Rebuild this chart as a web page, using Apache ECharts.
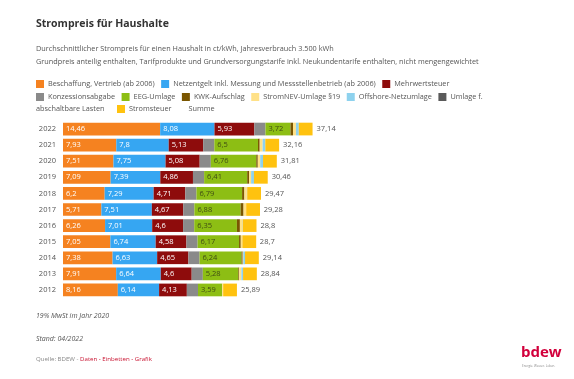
<!DOCTYPE html>
<html><head><meta charset="utf-8">
<script src="https://cdn.jsdelivr.net/npm/echarts@6/dist/echarts.min.js"></script>
<style>html,body{margin:0;padding:0;background:#fff}#c{width:574px;height:379px}</style>
</head><body><div id="c"></div>
<script>
const years = ['2022','2021','2020','2019','2018','2017','2016','2015','2014','2013','2012'];
const beschaffung = [14.46,7.93,7.51,7.09,6.2,5.71,6.26,7.05,7.38,7.91,8.16];
const netzentgelt = [8.08,7.8,7.75,7.39,7.29,7.51,7.01,6.74,6.63,6.64,6.14];
const mwst = [5.93,5.13,5.08,4.86,4.71,4.67,4.6,4.58,4.65,4.6,4.13];
const konzession = [1.66,1.66,1.66,1.66,1.66,1.66,1.66,1.66,1.66,1.66,1.66];
const eeg = [3.72,6.5,6.76,6.41,6.79,6.88,6.35,6.17,6.24,5.28,3.59];
const kwk = [0.378,0.254,0.226,0.28,0.345,0.438,0.445,0.254,0.178,0.126,0.002];
const stromnev = [0.437,0.432,0.358,0.305,0.37,0.388,0.378,0.237,0.092,0.329,0.151];
const offshore = [0.419,0.395,0.416,0.416,0.037,0,0.04,0,0.25,0.25,0];
const abla = [0.003,0.009,0.007,0.005,0.011,0.006,0,0.006,0.009,0,0];
const stromsteuer = [2.05,2.05,2.05,2.05,2.05,2.05,2.05,2.05,2.05,2.05,2.05];
const summe = [37.14,32.16,31.81,30.46,29.47,29.28,28.8,28.7,29.14,28.84,25.89];

const FONT = '"Open Sans", "Noto Sans", sans-serif';
const fmt = v => String(v).replace('.', ',');

const defs = [
  ['Beschaffung, Vertrieb (ab 2006)', beschaffung, '#F58220', '#fff'],
  ['Netzentgelt inkl. Messung und Messstellenbetrieb (ab 2006)', netzentgelt, '#36A6F2', '#fff'],
  ['Mehrwertsteuer', mwst, '#8E0C0C', '#fff'],
  ['Konzessionsabgabe', konzession, '#8A8A8A', null],
  ['EEG-Umlage', eeg, '#8DBE14', '#3f4a14'],
  ['KWK-Aufschlag', kwk, '#7A5600', null],
  ['StromNEV-Umlage §19', stromnev, '#FFE188', null],
  ['Offshore-Netzumlage', offshore, '#8ED2EE', null],
  ['Umlage f. abschaltbare Lasten', abla, '#5A5A5A', null],
  ['Stromsteuer', stromsteuer, '#FFC20F', null]
];

const series = defs.map(d => ({
  name: d[0], type: 'bar', stack: 'total', data: d[1],
  barCategoryGap: '21%', barGap: '-100%',
  itemStyle: { color: d[2] },
  label: d[3] ? { show: true, position: 'insideLeft', distance: 3, color: d[3], fontSize: 7.5, fontFamily: FONT, formatter: p => fmt(p.value) } : { show: false },
  emphasis: { disabled: true }
}));
series.push({
  name: 'Summe', type: 'bar', data: summe, barCategoryGap: '21%', barGap: '-100%',
  itemStyle: { color: 'rgba(0,0,0,0)' }, z: 1,
  label: { show: true, position: 'right', distance: 4, color: '#555', fontSize: 7.5, fontFamily: FONT, formatter: p => fmt(p.value) },
  emphasis: { disabled: true }
});

const legBase = { orient: 'horizontal', itemWidth: 8, itemHeight: 8, icon: 'rect', itemGap: 6.5,
  textStyle: { fontSize: 7.3, color: '#555', fontFamily: FONT, padding: [0,0,0,-1] }, selectedMode: false, padding: 0 };

const chart = echarts.init(document.getElementById('c'), null, { renderer: 'canvas' });
const xmax = 50;
chart.setOption({
  backgroundColor: '#fff',
  animation: false,
  grid: { left: 63, top: 121, height: 177, width: 6.72 * xmax },
  xAxis: { type: 'value', min: 0, max: xmax, show: false },
  yAxis: { type: 'category', data: years, inverse: true,
    axisLine: { show: false }, axisTick: { show: false },
    axisLabel: { fontSize: 7.5, color: '#555', fontFamily: FONT, margin: 7 } },
  legend: [
    Object.assign({}, legBase, { left: 36, top: 80, data: defs.slice(0,3).map(d => d[0]) }),
    Object.assign({}, legBase, { left: 36, top: 93, data: defs.slice(3,9).map(d => d[0]),
      formatter: n => n === 'Umlage f. abschaltbare Lasten' ? 'Umlage f.' : n }),
    Object.assign({}, legBase, { left: 117, top: 105, itemGap: 5, data: ['Stromsteuer', 'Summe'] })
  ],
  graphic: [
    { type: 'text', left: 36, top: 19, style: { text: 'Strompreis für Haushalte', fontSize: 10.5, fontWeight: 'bold', fill: '#333', fontFamily: FONT } },
    { type: 'text', left: 36, top: 45, style: { text: 'Durchschnittlicher Strompreis für einen Haushalt in ct/kWh, Jahresverbrauch 3.500 kWh', fontSize: 7.3, fill: '#555', fontFamily: FONT } },
    { type: 'text', left: 36, top: 58, style: { text: 'Grundpreis anteilig enthalten, Tarifprodukte und Grundversorgungstarife inkl. Neukundentarife enthalten, nicht mengengewichtet', fontSize: 7.3, fill: '#555', fontFamily: FONT } },
    { type: 'text', x: 36, y: 109, style: { text: 'abschaltbare Lasten', fontSize: 7.3, fill: '#555', fontFamily: FONT, verticalAlign: 'middle', align: 'left' } },
    { type: 'text', left: 36, top: 312, style: { text: '19% MwSt im Jahr 2020', fontSize: 7, fontStyle: 'italic', fill: '#555', fontFamily: FONT } },
    { type: 'text', left: 36, top: 335, style: { text: 'Stand: 04/2022', fontSize: 7, fontStyle: 'italic', fill: '#555', fontFamily: FONT } },
    { type: 'text', left: 36, top: 356, style: { text: '{g|Quelle: BDEW - }{r|Daten - Einbetten - Grafik}', fontFamily: FONT,
      rich: { g: { fontSize: 6.1, fill: '#888', fontFamily: FONT }, r: { fontSize: 6.1, fill: '#C8102E', fontFamily: FONT } } } },
    { type: 'text', left: 521, top: 345, style: { text: 'bdew', fontSize: 15, fontWeight: 'bold', fill: '#D2003C', fontFamily: FONT } },
    { type: 'text', left: 522, top: 365, style: { text: 'Energie. Wasser. Leben.', fontSize: 3, fill: '#888', fontFamily: FONT } }
  ],
  series: series
});
</script></body></html>
